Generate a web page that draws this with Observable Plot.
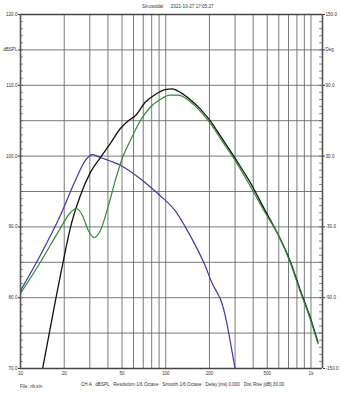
<!DOCTYPE html>
<html><head><meta charset="utf-8">
<script src="https://cdn.jsdelivr.net/npm/d3@7"></script>
<script src="https://cdn.jsdelivr.net/npm/@observablehq/plot@0.6"></script>
<style>
body{margin:0;background:#fff;}
#wrap{position:relative;width:342px;height:396px;font-family:"Liberation Sans",Arial,sans-serif;color:#333;}
#wrap svg{position:absolute;left:0;top:0;}
.t{position:absolute;font-size:4.6px;white-space:pre;line-height:1;}
</style></head>
<body>
<div id="wrap">
<div class="t" style="left:142px;top:5px">Sinusoidal      2021-10-27 17:05:27</div>
<div class="t" style="left:81px;top:383px">CH A   dBSPL   Resolution 1/6 Octave   Smooth 1/6 Octave   Delay [ms] 0.000   Dist Rise [dB] 30.00</div>
<div class="t" style="left:20px;top:385px">File: nb.sin</div>
</div>
<script>
// Black curve
const blackFreq = [14.2, 17.4, 18.8, 20.4, 22.0, 25.8, 30.3, 35.5, 41.6, 48.7, 55.3, 61.7, 72.3, 84.6, 99, 111, 126, 147, 172, 202, 237, 300, 381, 484, 611, 718, 839, 984, 1117];
const blackDb   = [70, 79.6, 83.1, 86.7, 89.8, 94.4, 97.7, 99.8, 101.8, 103.9, 105.0, 105.7, 107.6, 108.7, 109.4, 109.5, 109.0, 108.0, 106.7, 105.0, 102.9, 99.7, 96.3, 92.3, 88.4, 85.2, 81.2, 77.3, 73.7];
// Blue curve
const blueFreq = [10, 13.7, 18.8, 23.9, 28.0, 31.3, 35.5, 48.7, 66.8, 91.7, 116, 147, 187, 209, 226, 240, 261, 277, 300];
const blueDb   = [81.0, 86.0, 91.6, 96.6, 99.4, 100.2, 99.8, 98.7, 96.8, 94.4, 92.3, 88.8, 84.5, 82.0, 80.7, 79.6, 76.8, 74.0, 70.0];
// Green curve
const greenFreq = [10, 13.7, 18.8, 22, 24.3, 26.7, 29.3, 32.2, 35.5, 40.3, 45.0, 50.2, 57, 66.8, 78.2, 91.7, 107, 122, 143, 172, 208, 256, 300, 381, 484, 611, 718, 839, 984, 1117];
const greenDb   = [80.6, 85.0, 89.8, 92.0, 92.6, 91.6, 89.5, 88.5, 89.5, 93.0, 96.6, 99.7, 102.2, 105.0, 106.9, 108.0, 108.6, 108.6, 107.9, 106.4, 104.3, 101.5, 99.4, 95.8, 92.0, 88.4, 85.0, 81.0, 77.1, 73.5];

// Axes
const xTickValues = [10, 20, 50, 100, 200, 500, 1000];
const xTickLabels = ["10", "20", "50", "100", "200", "500", "1k"];
const xGrid = [20,30,40,50,60,70,80,90,100,200,300,400,500,600,700,800,900,1000];
const yGrid = [75,80,85,90,95,100,105,110,115];
const leftTickValues = [120, 115, 110, 100, 90, 80, 70];
const leftTickLabels = ["120.0", "dBSPL", "110.0", "100.0", "90.0", "80.0", "70.0"];
const rightTickLabels = ["150.0", "Deg", "90.0", "30.0", "-30.0", "-90.0", "-150.0"];
const minorY = d3.range(70, 121, 1);

const toRows = (f, v) => f.map((x, i) => ({f: x, db: v[i]}));
const black = toRows(blackFreq, blackDb);
const blue = toRows(blueFreq, blueDb);
const green = toRows(greenFreq, greenDb);

const plot = Plot.plot({
  width: 342, height: 396,
  marginTop: 14, marginBottom: 28, marginLeft: 20, marginRight: 20,
  style: {fontFamily: "Liberation Sans, Arial, sans-serif", fontSize: "4.6px", color: "#333", background: "#fff"},
  x: {type: "log", domain: [10, 1200]},
  y: {domain: [70, 120]},
  marks: [
    Plot.ruleX(xGrid, {x: d => d, stroke: "#6a6a6a", strokeWidth: 0.9}),
    Plot.ruleY(yGrid, {y: d => d, stroke: "#6a6a6a", strokeWidth: 0.9}),
    Plot.ruleY(minorY, {y: d => d, insetRight: 299, stroke: "#555", strokeWidth: 0.7}),
    Plot.ruleY(minorY, {y: d => d, insetLeft: 299, stroke: "#555", strokeWidth: 0.7}),
    Plot.line(blue, {x: "f", y: "db", stroke: "#3a3aa0", strokeWidth: 1.2, curve: "monotone-x", clip: true}),
    Plot.line(black, {x: "f", y: "db", stroke: "#111", strokeWidth: 1.3, curve: "monotone-x", clip: true}),
    Plot.line(green, {x: "f", y: "db", stroke: "#2f8a35", strokeWidth: 1.2, curve: "monotone-x", clip: true}),
    Plot.ruleY([120, 70], {stroke: "#444", strokeWidth: 1.6}),
    Plot.ruleX([10, 1200], {stroke: "#555", strokeWidth: 1.6}),
    Plot.axisX({ticks: xTickValues, tickFormat: (d) => xTickLabels[xTickValues.indexOf(d)], tickSize: 0, tickPadding: 3, label: null}),
    Plot.axisY({anchor: "left", ticks: leftTickValues, tickFormat: (d) => leftTickLabels[leftTickValues.indexOf(d)], tickSize: 2, tickPadding: 1, label: null}),
    Plot.axisY({anchor: "right", ticks: leftTickValues, tickFormat: (d) => rightTickLabels[leftTickValues.indexOf(d)], tickSize: 2, tickPadding: 1, label: null})
  ]
});
document.getElementById("wrap").prepend(plot);
</script>
</body></html>
